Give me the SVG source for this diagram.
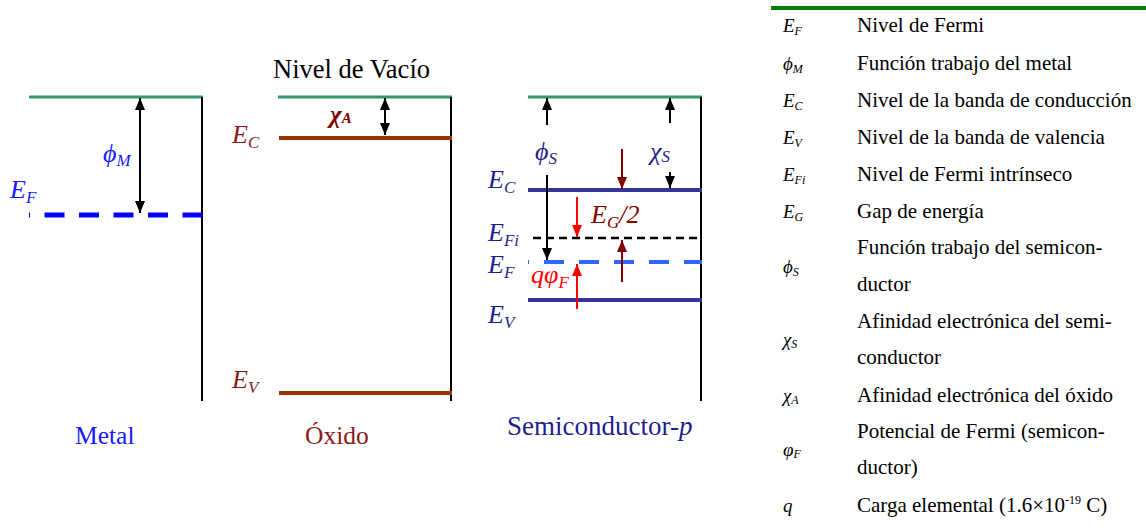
<svg xmlns="http://www.w3.org/2000/svg" width="1146" height="532" viewBox="0 0 1146 532">
<style>
text{font-family:"Liberation Serif","Tinos","Times New Roman","Nimbus Roman","FreeSerif","Noto Serif","DejaVu Serif",serif}
.it{font-style:italic}
.lbl{font-size:25.5px}
.sym{font-size:26px;font-style:italic}
.sub{font-size:17px;font-style:italic}
.leg{font-size:21px;fill:#000}
.lsym{font-size:19px;font-style:italic}
.lsub{font-size:12px;font-style:italic}
.vac{stroke:#339966;stroke-width:3}
.wall{stroke:#000;stroke-width:2}
.ox{stroke:#993300;stroke-width:4}
.sc{stroke:#333399;stroke-width:4}
.ak{stroke:#000;stroke-width:2;fill:none}
.am{stroke:#800000;stroke-width:2;fill:none}
.ar{stroke:#ff0000;stroke-width:2;fill:none}
</style>
<defs>
<marker id="hk" viewBox="0 0 12 10" refX="12" refY="5" markerWidth="12" markerHeight="10" markerUnits="userSpaceOnUse" orient="auto-start-reverse"><path d="M0,0 L12,5 L0,10 Z" fill="#000"/></marker>
<marker id="hm" viewBox="0 0 12 10" refX="12" refY="5" markerWidth="12" markerHeight="10" markerUnits="userSpaceOnUse" orient="auto-start-reverse"><path d="M0,0 L12,5 L0,10 Z" fill="#800000"/></marker>
<marker id="hr" viewBox="0 0 12 10" refX="12" refY="5" markerWidth="12" markerHeight="10" markerUnits="userSpaceOnUse" orient="auto-start-reverse"><path d="M0,0 L12,5 L0,10 Z" fill="#ff0000"/></marker>
</defs>

<g id="metal">
<line class="vac" x1="29" y1="97" x2="203" y2="97"/>
<line class="wall" x1="202" y1="97" x2="202" y2="401"/>
<line x1="29" y1="215" x2="203" y2="215" stroke="#0000ff" stroke-width="5" stroke-dasharray="20 14.5" stroke-dashoffset="19"/>
<text x="10" y="198" class="sym" fill="#1a1aff">E<tspan class="sub" dy="5">F</tspan></text>
<text x="103" y="162" class="sym" fill="#1a1aff">ϕ<tspan class="sub" dy="4">M</tspan></text>
<text x="75" y="444" class="lbl" fill="#1a1aff">Metal</text>
</g>

<g id="oxido">
<text x="273" y="78" font-size="26.5" fill="#000">Nivel de Vacío</text>
<line class="vac" x1="278" y1="97" x2="452" y2="97"/>
<line class="wall" x1="451" y1="97" x2="451" y2="401"/>
<line class="ox" x1="279" y1="138" x2="452" y2="138"/>
<line class="ox" x1="279" y1="393" x2="452" y2="393"/>
<text x="232" y="143" class="sym" fill="#8b1a1a">E<tspan class="sub" dy="5">C</tspan></text>
<text x="232" y="388" class="sym" fill="#8b1a1a">E<tspan class="sub" dy="5">V</tspan></text>
<text x="330" y="123" font-size="25" font-weight="bold" font-style="italic" fill="#800000">χ<tspan font-size="15">A</tspan></text>
<text x="305" y="444" class="lbl" fill="#8b1a1a">Óxido</text>
</g>

<g id="semiconductor">
<line class="vac" x1="528" y1="97" x2="702" y2="97"/>
<line class="wall" x1="701" y1="97" x2="701" y2="401"/>
<line class="sc" x1="528" y1="190" x2="702" y2="190"/>
<line x1="533" y1="238" x2="702" y2="238" stroke="#000" stroke-width="2.5" stroke-dasharray="8 5"/>
<line x1="528" y1="262" x2="702" y2="262" stroke="#3366ff" stroke-width="4" stroke-dasharray="20 15" stroke-dashoffset="19"/>
<line class="sc" x1="528" y1="300" x2="702" y2="300"/>
<text x="488" y="188" class="sym" fill="#1f1f8c">E<tspan class="sub" dy="5">C</tspan></text>
<text x="488" y="241" class="sym" fill="#1f1f8c">E<tspan class="sub" dy="5">Fi</tspan></text>
<text x="488" y="273" class="sym" fill="#1f1f8c">E<tspan class="sub" dy="5">F</tspan></text>
<text x="488" y="323" class="sym" fill="#1f1f8c">E<tspan class="sub" dy="5">V</tspan></text>
<text x="535" y="160" class="sym" fill="#1f1f8c">ϕ<tspan class="sub" dy="4">S</tspan></text>
<text x="650" y="160" class="sym" fill="#1f1f8c">χ<tspan class="sub" dy="2">S</tspan></text>
<text x="591" y="223" class="sym" fill="#800000">E<tspan class="sub" dy="5">G</tspan><tspan font-size="26" font-style="italic" dy="-5">/2</tspan></text>
<text x="531" y="283" class="sym" fill="#ff0000">qφ<tspan class="sub" dy="5">F</tspan></text>
<text x="507" y="435" font-size="27" fill="#1f1f8c">Semiconductor-<tspan class="it">p</tspan></text>
</g>

<g id="connectors">
<line class="ak" x1="140" y1="98" x2="140" y2="213" marker-start="url(#hk)" marker-end="url(#hk)"/>
<line class="ak" x1="385" y1="98" x2="385" y2="135" marker-start="url(#hk)" marker-end="url(#hk)"/>
<line class="ak" x1="547" y1="125" x2="547" y2="98" marker-end="url(#hk)"/>
<line class="ak" x1="547" y1="175" x2="547" y2="260" marker-end="url(#hk)"/>
<line class="ak" x1="670" y1="123" x2="670" y2="98" marker-end="url(#hk)"/>
<line class="ak" x1="670" y1="172" x2="670" y2="188" marker-end="url(#hk)"/>
<line class="am" x1="622" y1="149" x2="622" y2="189" marker-end="url(#hm)"/>
<line class="am" x1="622" y1="282" x2="622" y2="240" marker-end="url(#hm)"/>
<line class="ar" x1="577" y1="197" x2="577" y2="237" marker-end="url(#hr)"/>
<line class="ar" x1="577" y1="309" x2="577" y2="264" marker-end="url(#hr)"/>
</g>

<g id="legend">
<line x1="771" y1="8" x2="1146" y2="8" stroke="#008000" stroke-width="4"/>
<text x="783" y="32"><tspan class="lsym">E</tspan><tspan class="lsub" dy="3">F</tspan></text>
<text x="783" y="70"><tspan class="lsym">ϕ</tspan><tspan class="lsub" dy="3">M</tspan></text>
<text x="783" y="107"><tspan class="lsym">E</tspan><tspan class="lsub" dy="3">C</tspan></text>
<text x="783" y="144"><tspan class="lsym">E</tspan><tspan class="lsub" dy="3">V</tspan></text>
<text x="783" y="181"><tspan class="lsym">E</tspan><tspan class="lsub" dy="3">Fi</tspan></text>
<text x="783" y="218"><tspan class="lsym">E</tspan><tspan class="lsub" dy="3">G</tspan></text>
<text x="783" y="273"><tspan class="lsym">ϕ</tspan><tspan class="lsub" dy="3">S</tspan></text>
<text x="783" y="346"><tspan class="lsym">χ</tspan><tspan class="lsub" dy="2">S</tspan></text>
<text x="783" y="402"><tspan class="lsym">χ</tspan><tspan class="lsub" dy="2">A</tspan></text>
<text x="783" y="456"><tspan class="lsym">φ</tspan><tspan class="lsub" dy="2">F</tspan></text>
<text x="783" y="512"><tspan class="lsym">q</tspan></text>
<text class="leg" x="857" y="32">Nivel de Fermi</text>
<text class="leg" x="857" y="70">Función trabajo del metal</text>
<text class="leg" x="857" y="107">Nivel de la banda de conducción</text>
<text class="leg" x="857" y="144">Nivel de la banda de valencia</text>
<text class="leg" x="857" y="181">Nivel de Fermi intrínseco</text>
<text class="leg" x="857" y="218">Gap de energía</text>
<text class="leg" x="857" y="254">Función trabajo del semicon-</text>
<text class="leg" x="857" y="291">ductor</text>
<text class="leg" x="857" y="328">Afinidad electrónica del semi-</text>
<text class="leg" x="857" y="364">conductor</text>
<text class="leg" x="857" y="402">Afinidad electrónica del óxido</text>
<text class="leg" x="857" y="438">Potencial de Fermi (semicon-</text>
<text class="leg" x="857" y="474">ductor)</text>
<text class="leg" x="857" y="512">Carga elemental (1.6×10<tspan font-size="12" dy="-8">-19</tspan><tspan dy="8"> C)</tspan></text>
</g>
</svg>
